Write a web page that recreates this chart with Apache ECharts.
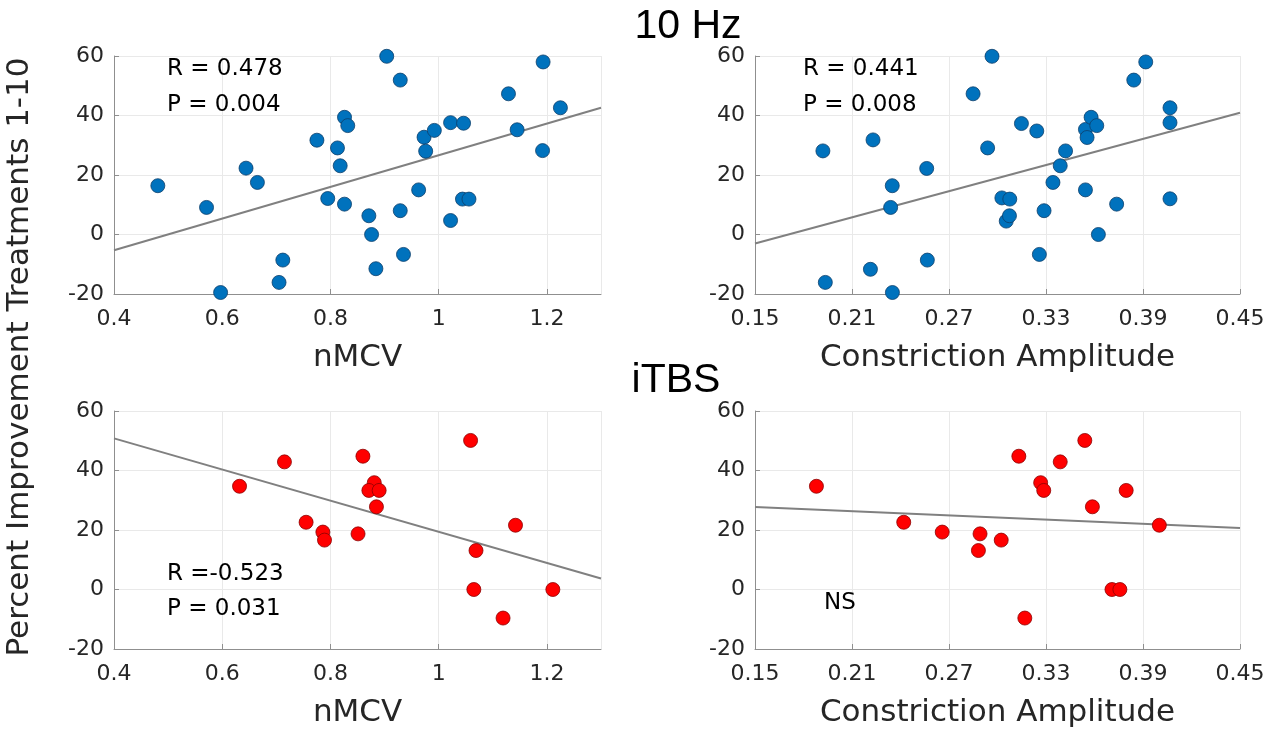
<!DOCTYPE html>
<html>
<head>
<meta charset="utf-8">
<title>nMCV / Constriction Amplitude vs Percent Improvement</title>
<script src="https://cdn.jsdelivr.net/npm/echarts@6/dist/echarts.min.js"></script>
<style>
  html, body { margin: 0; padding: 0; background: #fff; }
  #main { width: 1288px; height: 734px; }
</style>
</head>
<body>
<div id="main"></div>
<script>
// 10 Hz group - nMCV
var hzNmcvX = [0.481, 0.571, 0.597, 0.644, 0.665, 0.705, 0.712, 0.775, 0.795, 0.813, 0.818, 0.826,
  0.832, 0.826, 0.871, 0.876, 0.884, 0.904, 0.929, 0.929, 0.935, 0.963, 0.973, 0.976, 0.992,
  1.022, 1.022, 1.046, 1.044, 1.056, 1.129, 1.145, 1.192, 1.193, 1.225];
var hzNmcvY = [16.4, 9.1, -19.5, 22.3, 17.5, -16.1, -8.6, 31.7, 12.1, 29.1, 23.1, 39.4,
  36.6, 10.2, 6.3, 0, -11.5, 59.9, 51.9, 8.0, -6.7, 15.0, 32.7, 28.0, 35.0,
  37.6, 4.7, 37.4, 11.9, 11.9, 47.3, 35.2, 28.2, 58.0, 42.6];
// 10 Hz group - constriction amplitude
var hzAmpX = [0.192, 0.1935, 0.2214, 0.223, 0.2349, 0.2339, 0.235, 0.2562, 0.2566, 0.2849, 0.2939, 0.2966,
  0.3027, 0.3076, 0.3054, 0.3074, 0.3148, 0.3243, 0.3259, 0.3288, 0.3343, 0.3388, 0.3421, 0.3544,
  0.3554, 0.3579, 0.3614, 0.3544, 0.3624, 0.3737, 0.3843, 0.3917, 0.4067, 0.4067, 0.4067];
var hzAmpY = [28.1, -16.1, -11.7, 31.8, 16.4, 9.1, -19.5, 22.2, -8.6, 47.3, 29.1, 59.9,
  12.3, 11.9, 4.5, 6.3, 37.3, 34.8, -6.7, 8.0, 17.5, 23.1, 28.1, 35.3,
  32.6, 39.4, 36.6, 15.0, 0, 10.2, 51.9, 58.0, 42.6, 37.6, 12.0];
// iTBS group - nMCV
var itbsNmcvX = [0.632, 0.715, 0.755, 0.786, 0.789, 0.851, 0.860, 0.881, 0.871, 0.890, 0.885,
  1.059, 1.069, 1.065, 1.119, 1.142, 1.211];
var itbsNmcvY = [34.7, 42.9, 22.6, 19.3, 16.6, 18.7, 44.8, 35.9, 33.3, 33.3, 27.8,
  50.1, 13.1, 0, -9.6, 21.6, 0];
// iTBS group - constriction amplitude
var itbsAmpX = [0.188, 0.242, 0.2658, 0.2892, 0.2882, 0.3023, 0.3132, 0.3169, 0.3267, 0.3286, 0.3388,
  0.354, 0.3587, 0.3708, 0.3757, 0.3796, 0.4001];
var itbsAmpY = [34.7, 22.6, 19.3, 18.7, 13.1, 16.6, 44.8, -9.6, 35.9, 33.3, 42.9,
  50.1, 27.8, 0, 0, 33.3, 21.6];

// fitted lines (end points)
var hzNmcvFit = [[0.4, -5.3], [1.3, 42.6]];
var hzAmpFit = [[0.15, -3.0], [0.45, 40.9]];
var itbsNmcvFit = [[0.4, 50.8], [1.3, 3.7]];
var itbsAmpFit = [[0.15, 27.7], [0.45, 20.7]];

var yTicks = { min: -20, max: 60, step: 20 };
var nmcvTicks = { min: 0.4, max: 1.3, step: 0.2 };
var ampTicks = { min: 0.15, max: 0.45, step: 0.06 };

function zip(xs, ys) {
  var out = [];
  for (var i = 0; i < xs.length; i++) out.push([xs[i], ys[i]]);
  return out;
}

var FONT = 'DejaVu Sans';
var axisColor = '#8f8f8f';
var textColor = '#262626';

function makeX(idx, t, name, showMax) {
  return {
    type: 'value', gridIndex: idx, min: t.min, max: t.max, interval: t.step,
    name: name, nameLocation: 'middle', nameGap: 48,
    nameTextStyle: { fontFamily: FONT, fontSize: 31, color: textColor },
    axisLine: { show: true, onZero: false, lineStyle: { color: axisColor, width: 1 } },
    axisTick: { show: true, inside: true, length: 5, lineStyle: { color: axisColor } },
    axisLabel: { fontFamily: FONT, fontSize: 22, color: textColor, margin: 14, showMaxLabel: showMax },
    splitLine: { show: true, lineStyle: { color: '#e9e9e9', width: 1 } }
  };
}
function makeY(idx) {
  return {
    type: 'value', gridIndex: idx, min: yTicks.min, max: yTicks.max, interval: yTicks.step,
    axisLine: { show: true, onZero: false, lineStyle: { color: axisColor, width: 1 } },
    axisTick: { show: true, inside: true, length: 5, lineStyle: { color: axisColor } },
    axisLabel: { fontFamily: FONT, fontSize: 22, color: textColor, margin: 10 },
    splitLine: { show: true, lineStyle: { color: '#e9e9e9', width: 1 } }
  };
}
function dots(idx, data, fill, edge) {
  return {
    type: 'scatter', xAxisIndex: idx, yAxisIndex: idx, data: data,
    symbol: 'circle', symbolSize: 14, z: 3,
    itemStyle: { color: fill, borderColor: edge, borderWidth: 0.8, opacity: 1 }
  };
}
function fit(idx, data) {
  return {
    type: 'line', xAxisIndex: idx, yAxisIndex: idx, data: data,
    symbol: 'none', z: 2, silent: true,
    lineStyle: { color: '#808080', width: 2 }
  };
}
function label(text, x, y, size, family, align) {
  return {
    type: 'text', x: x, y: y, z: 10,
    style: { text: text, font: size + 'px "' + family + '"', fill: '#000',
      textAlign: align || 'left', textVerticalAlign: 'middle' }
  };
}

var blue = '#0072BD', blueEdge = '#0d3f6b';
var red = '#ff0000', redEdge = '#8c0000';

var chart = echarts.init(document.getElementById('main'));
chart.setOption({
  animation: false,
  backgroundColor: '#fff',
  grid: [
    { left: 114, top: 56, width: 487, height: 238, outerBoundsMode: 'none' },
    { left: 755, top: 56, width: 485, height: 238, outerBoundsMode: 'none' },
    { left: 114, top: 411, width: 487, height: 238, outerBoundsMode: 'none' },
    { left: 755, top: 411, width: 485, height: 238, outerBoundsMode: 'none' }
  ],
  xAxis: [
    makeX(0, nmcvTicks, 'nMCV', false),
    makeX(1, ampTicks, 'Constriction Amplitude', true),
    makeX(2, nmcvTicks, 'nMCV', false),
    makeX(3, ampTicks, 'Constriction Amplitude', true)
  ],
  yAxis: [makeY(0), makeY(1), makeY(2), makeY(3)],
  series: [
    fit(0, hzNmcvFit), dots(0, zip(hzNmcvX, hzNmcvY), blue, blueEdge),
    fit(1, hzAmpFit), dots(1, zip(hzAmpX, hzAmpY), blue, blueEdge),
    fit(2, itbsNmcvFit), dots(2, zip(itbsNmcvX, itbsNmcvY), red, redEdge),
    fit(3, itbsAmpFit), dots(3, zip(itbsAmpX, itbsAmpY), red, redEdge)
  ],
  graphic: [
    label('10 Hz', 688, 27, 41, 'Liberation Sans', 'center'),
    label('iTBS', 676, 381, 41, 'Liberation Sans', 'center'),
    {
      type: 'text', x: 20, y: 357, rotation: Math.PI / 2, z: 10,
      style: { text: 'Percent Improvement Treatments 1-10', font: '31px "' + FONT + '"',
        fill: textColor, textAlign: 'center', textVerticalAlign: 'middle' }
    },
    label('R = 0.478', 167, 69, 23, FONT),
    label('P = 0.004', 167, 105, 23, FONT),
    label('R = 0.441', 803, 69, 23, FONT),
    label('P = 0.008', 803, 105, 23, FONT),
    label('R =-0.523', 167, 574, 23, FONT),
    label('P = 0.031', 167, 609, 23, FONT),
    label('NS', 824, 603, 23, FONT)
  ]
});
</script>
</body>
</html>
